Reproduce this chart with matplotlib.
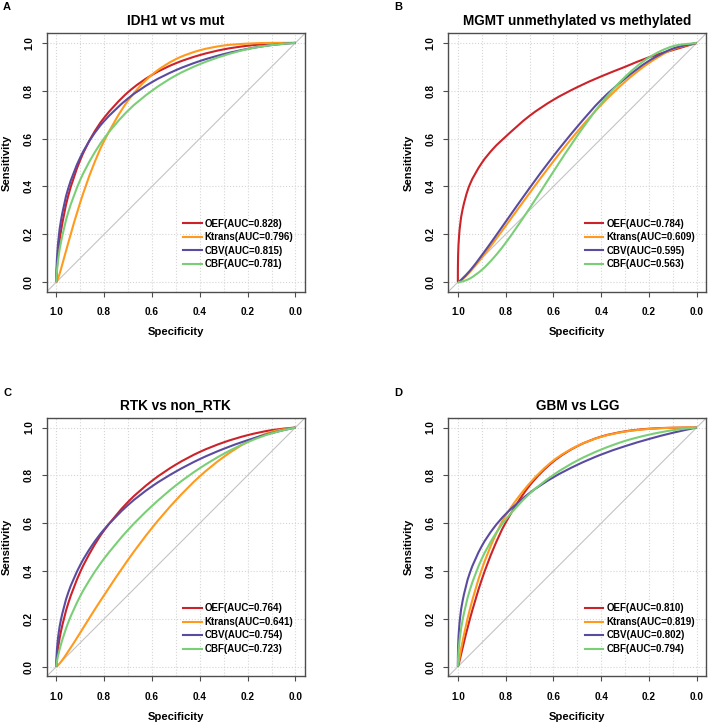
import matplotlib
matplotlib.use('Agg')
import matplotlib.pyplot as plt
from matplotlib.path import Path
from matplotlib.patches import PathPatch
from matplotlib.lines import Line2D
import numpy as np

plt.rcParams['font.family'] = ['Liberation Sans', 'DejaVu Sans']
plt.rcParams['font.weight'] = 'bold'

# specificity points at which the smoothed curves were read
specificity = [1.0, 0.999, 0.995, 0.99, 0.98, 0.95, 0.9, 0.85, 0.8,
               0.7, 0.6, 0.5, 0.4, 0.3, 0.2, 0.1, 0.0]

# A: IDH1 wt vs mut
idh_oef = [0, 0.031, 0.091, 0.142, 0.216, 0.361, 0.51, 0.612, 0.687, 0.794, 0.866, 0.915, 0.949, 0.973, 0.988, 0.997, 1]
idh_ktrans = [0, 0.001, 0.009, 0.023, 0.056, 0.164, 0.333, 0.475, 0.59, 0.759, 0.867, 0.932, 0.969, 0.989, 0.997, 1.0, 1]
idh_cbv = [0, 0.058, 0.133, 0.187, 0.26, 0.392, 0.521, 0.608, 0.673, 0.768, 0.836, 0.886, 0.924, 0.953, 0.975, 0.991, 1]
idh_cbf = [0, 0.023, 0.07, 0.11, 0.169, 0.292, 0.427, 0.524, 0.601, 0.717, 0.80, 0.864, 0.911, 0.947, 0.974, 0.991, 1]
idh_auc = [0.828, 0.796, 0.815, 0.781]

# B: MGMT unmethylated vs methylated
mgmt_oef = [0, 0.112, 0.192, 0.243, 0.305, 0.408, 0.498, 0.56, 0.608, 0.695, 0.762, 0.815, 0.86, 0.90, 0.94, 0.97, 1]
mgmt_ktrans = [0, 0.0, 0.002, 0.005, 0.013, 0.042, 0.102, 0.167, 0.235, 0.372, 0.505, 0.629, 0.741, 0.838, 0.916, 0.973, 1]
mgmt_cbv = [0, 0.0, 0.002, 0.006, 0.015, 0.047, 0.112, 0.181, 0.252, 0.393, 0.527, 0.65, 0.762, 0.851, 0.925, 0.976, 1]
mgmt_cbf = [0, 0.0, 0.0, 0.001, 0.003, 0.015, 0.051, 0.102, 0.164, 0.308, 0.462, 0.612, 0.747, 0.858, 0.939, 0.986, 1]
mgmt_auc = [0.784, 0.609, 0.595, 0.563]

# C: RTK vs non_RTK
rtk_oef = [0, 0.019, 0.06, 0.095, 0.15, 0.265, 0.396, 0.492, 0.57, 0.689, 0.777, 0.845, 0.898, 0.938, 0.968, 0.989, 1]
rtk_ktrans = [0, 0.0005, 0.004, 0.009, 0.021, 0.064, 0.142, 0.222, 0.299, 0.447, 0.58, 0.696, 0.796, 0.877, 0.94, 0.982, 1]
rtk_cbv = [0, 0.042, 0.099, 0.141, 0.199, 0.31, 0.425, 0.508, 0.574, 0.676, 0.754, 0.816, 0.868, 0.911, 0.947, 0.977, 1]
rtk_cbf = [0, 0.009, 0.035, 0.056, 0.095, 0.185, 0.295, 0.38, 0.452, 0.572, 0.672, 0.758, 0.83, 0.89, 0.939, 0.976, 1]
rtk_auc = [0.764, 0.641, 0.754, 0.723]

# D: GBM vs LGG
gbm_oef = [0, 0.002, 0.016, 0.037, 0.079, 0.198, 0.364, 0.496, 0.602, 0.757, 0.858, 0.922, 0.962, 0.984, 0.995, 0.999, 1]
gbm_ktrans = [0, 0.005, 0.027, 0.055, 0.107, 0.239, 0.407, 0.533, 0.632, 0.766, 0.862, 0.923, 0.961, 0.983, 0.994, 0.999, 1]
gbm_cbv = [0, 0.08, 0.158, 0.21, 0.276, 0.392, 0.504, 0.58, 0.638, 0.726, 0.792, 0.844, 0.887, 0.922, 0.952, 0.978, 1]
gbm_cbf = [0, 0.033, 0.089, 0.133, 0.196, 0.32, 0.451, 0.543, 0.615, 0.723, 0.802, 0.862, 0.908, 0.944, 0.970, 0.989, 1]
gbm_auc = [0.810, 0.819, 0.802, 0.794]

markers = ['OEF', 'Ktrans', 'CBV', 'CBF']
colors = ['#CC2229', '#FF9A1C', '#5A4BA0', '#7ACF76']
ticks = [1.0, 0.8, 0.6, 0.4, 0.2, 0.0]
tick_labels = ['1.0', '0.8', '0.6', '0.4', '0.2', '0.0']

panels = [
    ('A', 'IDH1 wt vs mut', [idh_oef, idh_ktrans, idh_cbv, idh_cbf], idh_auc,
     [0.0660, 0.5982, 0.3648, 0.3559], (7, 7.5)),
    ('B', 'MGMT unmethylated vs methylated', [mgmt_oef, mgmt_ktrans, mgmt_cbv, mgmt_cbf], mgmt_auc,
     [0.6332, 0.5982, 0.3644, 0.3559], (398, 7.5)),
    ('C', 'RTK vs non_RTK', [rtk_oef, rtk_ktrans, rtk_cbv, rtk_cbf], rtk_auc,
     [0.0660, 0.0685, 0.3648, 0.3558], (7, 393)),
    ('D', 'GBM vs LGG', [gbm_oef, gbm_ktrans, gbm_cbv, gbm_cbf], gbm_auc,
     [0.6332, 0.0685, 0.3644, 0.3558], (398, 393)),
]


def smooth_path(xs, ys):
    # centripetal Catmull-Rom through the read points, drawn as cubic Beziers
    pts = np.column_stack([xs, ys]).astype(float)
    P = np.vstack([2 * pts[0] - pts[1], pts, 2 * pts[-1] - pts[-2]])
    verts = [P[1]]
    codes = [Path.MOVETO]
    for i in range(1, len(P) - 2):
        p0, p1, p2, p3 = P[i - 1], P[i], P[i + 1], P[i + 2]
        d1 = np.hypot(*(p1 - p0)) ** 0.5
        d2 = np.hypot(*(p2 - p1)) ** 0.5
        d3 = np.hypot(*(p3 - p2)) ** 0.5
        a = 2 * d1 ** 2 + 3 * d1 * d2 + d2 ** 2
        b = 2 * d3 ** 2 + 3 * d3 * d2 + d2 ** 2
        c1 = (d1 ** 2 * p2 - d2 ** 2 * p0 + a * p1) / (3 * d1 * (d1 + d2))
        c2 = (d3 ** 2 * p1 - d2 ** 2 * p3 + b * p2) / (3 * d3 * (d3 + d2))
        verts += [c1, c2, p2]
        codes += [Path.CURVE4] * 3
    return Path(verts, codes)


fig = plt.figure(figsize=(7.08, 7.26), dpi=100)
frame_col = '#4D4D4D'

for letter, title, curves, aucs, pos, lpos in panels:
    ax = fig.add_axes(pos)
    ax.set_xlim(1.04, -0.04)
    ax.set_ylim(-0.04, 1.04)

    # pROC style grid: 0.1 on specificity, 0.2 on sensitivity
    for v in np.arange(0, 1.01, 0.1):
        ax.axvline(v, color='#D5D5D5', ls=':', lw=0.8, zorder=0)
    for v in np.arange(0, 1.01, 0.2):
        ax.axhline(v, color='#D5D5D5', ls=':', lw=0.8, zorder=0)
    ax.axline((1, 0), (0, 1), color='#C4C4C4', lw=0.8, zorder=1)

    handles = []
    for sens, col, name, auc in zip(curves, colors, markers, aucs):
        ax.add_patch(PathPatch(smooth_path(specificity, sens), fill=False,
                               edgecolor=col, lw=1.5, zorder=3))
        handles.append(Line2D([], [], color=col, lw=1.5,
                              label='%s(AUC=%.3f)' % (name, auc)))

    ax.set_xticks(ticks)
    ax.set_xticklabels(tick_labels)
    ax.set_yticks(ticks[::-1])
    ax.set_yticklabels(tick_labels[::-1])
    ax.tick_params(axis='both', length=3.6, width=0.8, color=frame_col,
                   labelsize=7.2, direction='out')
    ax.tick_params(axis='x', pad=7.5)
    ax.tick_params(axis='y', pad=5.5)
    for lab in ax.get_yticklabels():
        lab.set_rotation(90)
        lab.set_va('center')
    for sp in ax.spines.values():
        sp.set_color(frame_col)
        sp.set_linewidth(1.0)

    ax.set_xlabel('Specificity', fontsize=8.1, fontweight='bold')
    ax.set_ylabel('Sensitivity', fontsize=8.1, fontweight='bold')
    ax.xaxis.set_label_coords(0.5, -0.137)
    ax.yaxis.set_label_coords(-0.134, 0.5)
    ax.set_title(title, fontsize=9.8, fontweight='bold', pad=6)

    ax.legend(handles=handles, loc='upper left', bbox_to_anchor=(0.529, 0.282),
              frameon=False, prop={'size': 7, 'weight': 'bold'},
              handlelength=1.9, handletextpad=0.3, labelspacing=0.36,
              borderpad=0, borderaxespad=0)

    fig.text(lpos[0] / 708, 1 - lpos[1] / 726, letter, fontsize=8,
             fontweight='bold', ha='center', va='center')

fig.savefig('out.png', dpi=100)
